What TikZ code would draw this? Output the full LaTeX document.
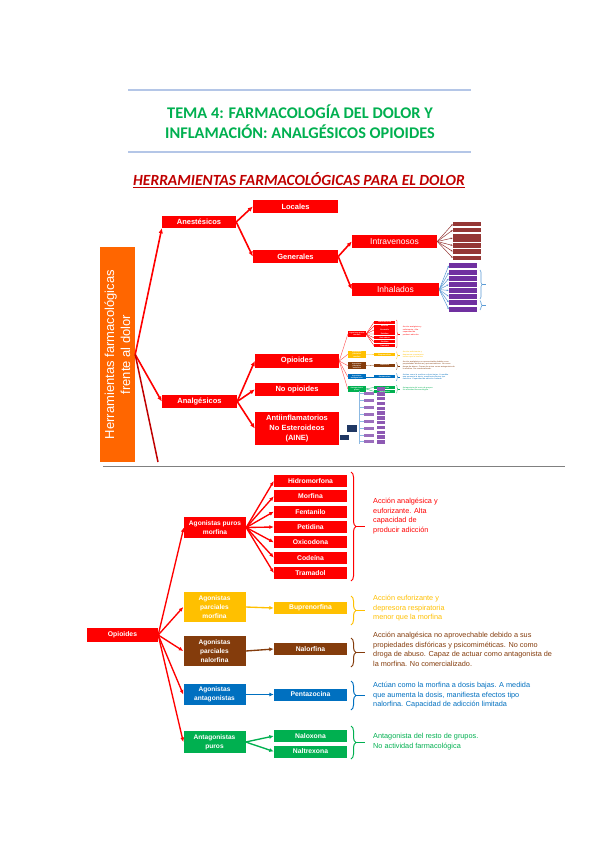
\documentclass[tikz,border=0pt]{standalone}
\usepackage{fontspec}
\setmainfont{Liberation Sans}
\newfontfamily\calib{Carlito}
\usetikzlibrary{positioning,arrows.meta,decorations.pathreplacing,calc}

\definecolor{cred}{HTML}{FF0000}
\definecolor{dred}{HTML}{C00000}
\definecolor{corange}{HTML}{FF6600}
\definecolor{tgreen}{HTML}{00B050}
\definecolor{lblue}{HTML}{B4C6E7}
\definecolor{cyel}{HTML}{FFC000}
\definecolor{cbrown}{HTML}{843C0C}
\definecolor{cblue}{HTML}{0070C0}
\definecolor{cgreen}{HTML}{00B050}
\definecolor{ivred}{HTML}{953735}
\definecolor{cpurp}{HTML}{7030A0}
\definecolor{cnavy}{HTML}{203864}
\definecolor{sblue}{HTML}{5B9BD5}

% opioid tree, drawn full size below and as a thumbnail above
\newcommand\opioidtree[1]{%
  \node[grp, fill=cred, minimum height=21] (#1pur) at (215,527.5) {Agonistas puros\\morfina};
  \foreach \n [count=\i] in {Hidromorfona,Morfina,Fentanilo,Petidina,Oxicodona,Codeína,Tramadol}
    \node[drug, fill=cred] (#1m\i) at (310.5,{481+15.33*(\i-1)}) {\n};
  \node[grp, fill=cyel, minimum height=30] (#1ya) at (214.5,607) {Agonistas\\parciales\\morfina};
  \node[drug, fill=cyel] (#1bup) at (310.5,608) {Buprenorfina};
  \node[grp, fill=cbrown, minimum height=30] (#1br) at (214.5,651) {Agonistas\\parciales\\nalorfina};
  \node[drug, fill=cbrown] (#1nal) at (310.5,649) {Nalorfina};
  \node[grp, fill=cblue, minimum height=21] (#1bl) at (214.5,694.5) {Agonistas\\antagonistas};
  \node[drug, fill=cblue] (#1pen) at (310.5,694.5) {Pentazocina};
  \node[grp, fill=cgreen, minimum height=22] (#1gr) at (214.5,742) {Antagonistas\\puros};
  \node[drug, fill=cgreen] (#1nlx) at (310.5,736) {Naloxona};
  \node[drug, fill=cgreen] (#1ntx) at (310.5,751.5) {Naltrexona};
  \foreach \i in {1,...,7} \draw[arr, cred] (#1pur.east) -- (#1m\i.west);
  \draw[arr, cyel] (#1ya.east) -- (#1bup.west);
  \draw[arr, cbrown] (#1br.east) -- (#1nal.west);
  \draw[arr, cblue] (#1bl.east) -- (#1pen.west);
  \draw[arr, cgreen] (#1gr.east) -- (#1nlx.west);
  \draw[arr, cgreen] (#1gr.east) -- (#1ntx.west);
  % braces + notes
  \draw[brc, cred] (351,472) -- (351,581); \draw[tipl, cred] (356,526.5) -- +(9,0);
  \draw[brc, cyel] (351,596) -- (351,625); \draw[tipl, cyel] (356,610.5) -- +(9,0);
  \draw[brc, cbrown] (351,638) -- (351,667); \draw[tipl, cbrown] (356,652.5) -- +(9,0);
  \draw[brc, cblue] (351,681) -- (351,710); \draw[tipl, cblue] (356,695.5) -- +(9,0);
  \draw[brc, cgreen] (351,726) -- (351,759); \draw[tipl, cgreen] (356,742.5) -- +(9,0);
  \node[desc, text=cred] (#1dr) at (373,498) {Acción analgésica y\\euforizante. Alta\\capacidad de\\producir adicción};
  \node[desc, text=cyel] (#1dy) at (373,595) {Acción euforizante y\\depresora respiratoria\\menor que la morfina};
  \node[desc, text=cbrown] (#1db) at (373,632) {Acción analgésica no aprovechable debido a sus\\propiedades disfóricas y psicomiméticas. No como\\droga de abuso. Capaz de actuar como antagonista de\\la morfina. No comercializado.};
  \node[desc, text=cblue] (#1dl) at (373,682) {Actúan como la morfina a dosis bajas. A medida\\que aumenta la dosis, manifiesta efectos tipo\\nalorfina. Capacidad de adicción limitada};
  \node[desc, text=cgreen] (#1dg) at (373,733) {Antagonista del resto de grupos.\\No actividad farmacológica};
}

\begin{document}
\begin{tikzpicture}[x=1pt, y=-1pt,
  ub/.style={fill=cred, text=white, inner sep=0, align=center, font=\bfseries\fontsize{7.5}{10}\selectfont},
  uarr/.style={-{Latex[length=5pt,width=4.5pt]}, line width=1.6pt, cred},
  sarr/.style={-{Latex[length=2pt,width=1.8pt]}, line width=0.5pt},
  grp/.style={text=white, inner sep=0, minimum width=62, align=center, font=\bfseries\fontsize{6.6}{8.8}\selectfont},
  drug/.style={text=white, inner sep=0, minimum width=73, minimum height=12, font=\bfseries\fontsize{6.8}{8}\selectfont},
  arr/.style={-{Latex[length=4.5pt,width=4pt]}, line width=1.35pt},
  brc/.style={decorate, decoration={brace, amplitude=5pt}, line width=1pt},
  tipl/.style={line width=1pt},
  desc/.style={anchor=north west, align=left, inner sep=0, font=\fontsize{7.3}{9.6}\selectfont}]
  \useasboundingbox[fill=white] (0,0) rectangle (599,848);

  % title
  \draw[lblue, line width=1.2pt] (128,90) -- (471,90);
  \draw[lblue, line width=1.2pt] (128,152) -- (471,152);
  \node[font=\calib\bfseries\fontsize{16.3}{20}\selectfont, text=tgreen, align=center] (title) at (300,122)
       {TEMA 4: FARMACOLOGÍA DEL DOLOR Y\\INFLAMACIÓN: ANALGÉSICOS OPIOIDES};
  \node[font=\calib\bfseries\itshape\fontsize{15.5}{17}\selectfont, text=dred] (head) at (299,180)
       {\underline{HERRAMIENTAS FARMACOLÓGICAS PARA EL DOLOR}};

  % upper tree
  \node[fill=corange, text=white, rotate=90, minimum width=215, minimum height=35, inner sep=0, align=center,
        font=\fontsize{13}{16}\selectfont] (herr) at (117.5,354.5) {Herramientas farmacológicas\\frente al dolor};
  \node[ub, minimum width=74, minimum height=12] (anest) at (199,222) {Anestésicos};
  \node[ub, minimum width=85, minimum height=13] (locales) at (295.5,206.5) {Locales};
  \node[ub, minimum width=85, minimum height=13] (generales) at (295.5,256.5) {Generales};
  \node[ub, minimum width=85, minimum height=13, font=\fontsize{8.5}{10}\selectfont] (intrav) at (394.5,241.5) {Intravenosos};
  \node[ub, minimum width=87, minimum height=13, font=\fontsize{8.5}{10}\selectfont] (inhal) at (395.5,289.5) {Inhalados};
  \node[ub, minimum width=75, minimum height=13] (analg) at (199.5,401.5) {Analgésicos};
  \node[ub, minimum width=84, minimum height=14] (opio) at (297,361) {Opioides};
  \node[ub, minimum width=84, minimum height=13] (noopio) at (297,389.5) {No opioides};
  \node[ub, minimum width=84, minimum height=33] (aine) at (297,428.5) {Antiinflamatorios\\No Esteroideos\\(AINE)};
  \coordinate (cut) at (158,462);
  \draw[uarr] (herr.south) -- (anest.south west);
  \draw[uarr] (herr.south) -- (analg.west);
  \draw[dred, line width=1.5pt] (herr.south) -- (cut);
  \draw[uarr] (anest.east) -- (locales.west);
  \draw[uarr] (anest.east) -- (generales.west);
  \draw[uarr] (generales.east) -- (intrav.west);
  \draw[uarr] (generales.east) -- (inhal.west);
  \foreach \b in {opio, noopio, aine} \draw[uarr] (analg.east) -- (\b.west);

  % small boxes of the anaesthetics
  \foreach \y/\h [count=\k] in {224/4.5,230/4.5,238/8,245.5/4.5,251.5/4.5,258/4.5}
    \node[fill=ivred, minimum width=28, minimum height=\h, inner sep=0] (iv\k) at (467,\y) {};
  \foreach \k in {1,...,6} \draw[sarr, ivred] (intrav.east) -- (iv\k.west);
  \foreach \y [count=\k] in {265.5,272.5,278.5,284.5,290.5,296.5,302.5,309.5}
    \node[fill=cpurp, minimum width=28, minimum height=5, inner sep=0] (ih\k) at (463,\y) {};
  \foreach \k in {1,...,8} \draw[sarr, sblue] (inhal.east) -- (ih\k.west);
  \draw[decorate, decoration={brace, amplitude=2pt}, sblue, line width=0.6pt] (480,270) -- (480,299);
  \draw[sblue, line width=0.6pt] (482,284.5) -- +(4,0);
  \draw[decorate, decoration={brace, amplitude=2pt}, sblue, line width=0.6pt] (480,300.5) -- (480,310);
  \draw[sblue, line width=0.6pt] (482,305.25) -- +(4,0);

  % thumbnail of the opioid tree
  \begin{scope}[shift={(294.6,199)}, xscale=0.29, yscale=0.256, transform shape,
      arr/.style={line width=0.3pt}, tipl/.style={line width=0.3pt},
      brc/.style={decorate, decoration={brace, amplitude=1.4pt}, line width=0.3pt}]
    \opioidtree{t}
  \end{scope}
  \foreach \g in {tpur, tya, tbr, tbl, tgr} \draw[cred!70, line width=0.4pt] (opio.east) -- (\g.west);

  % thumbnail of the AINE tree
  \foreach \k in {1,...,12}
    \node[fill=cpurp!80, minimum width=8, minimum height=3.4, inner sep=0] (ap\k) at (381,{389+4.8*(\k-1)}) {};
  \foreach \y [count=\k] in {393,400,407,414,421,428,435,441}
    \node[fill=cpurp!70, minimum width=10, minimum height=3, inner sep=0] (aq\k) at (369,\y) {};
  \coordinate (atop) at (359,391);
  \coordinate (abot) at (359,444);
  \draw[sblue!70, line width=0.4pt] (atop) -- (abot);
  \foreach \k in {1,...,8} \draw[sblue!70, line width=0.4pt] (aq\k.west -| atop) -- (aq\k.west);
  \node[fill=cnavy, minimum width=10, minimum height=7, inner sep=0] (an1) at (352,428.5) {};
  \node[fill=cnavy, minimum width=9, minimum height=5, inner sep=0] (an2) at (344.5,437.5) {};

  % lower tree
  \draw[black!50, line width=0.8pt] (103,466.5) -- (565,466.5);
  \node[drug, fill=cred, minimum width=71, minimum height=14] (opl) at (122.5,635) {Opioides};
  \opioidtree{}
  \foreach \g in {pur, ya, br, bl, gr} \draw[arr, cred] (opl.east) -- (\g.west);
\end{tikzpicture}
\end{document}
